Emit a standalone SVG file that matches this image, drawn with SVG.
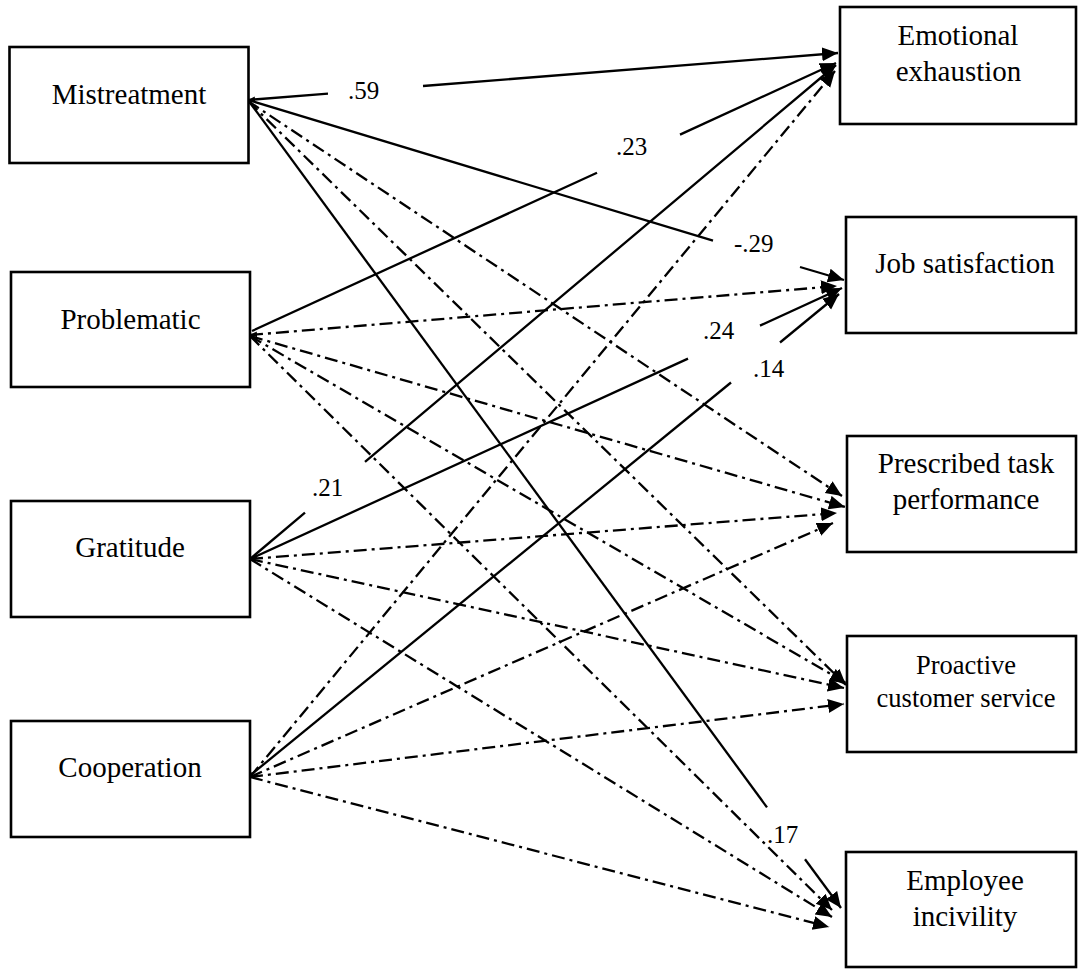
<svg xmlns="http://www.w3.org/2000/svg" width="1078" height="969" viewBox="0 0 1078 969">
<style>
.box{fill:#fff;stroke:#000;stroke-width:2.6}
.t{font-family:"Liberation Serif","Times New Roman",serif;font-size:29px;fill:#000;text-anchor:middle}
.ts{font-family:"Liberation Serif","Times New Roman",serif;font-size:26.5px;fill:#000;text-anchor:middle}
.lb{font-family:"Liberation Serif","Times New Roman",serif;font-size:25px;fill:#000}
.s{fill:none;stroke:#000;stroke-width:2.3;marker-end:url(#ah)}
.sn{fill:none;stroke:#000;stroke-width:2.3}
.d{fill:none;stroke:#000;stroke-width:2.3;stroke-dasharray:13 5 3 5;marker-end:url(#ah)}
.st{marker-start:url(#sh)}
</style>
<defs>
<marker id="ah" markerUnits="userSpaceOnUse" markerWidth="18" markerHeight="16" refX="16" refY="7" orient="auto" viewBox="0 0 18 16">
<path d="M0,0 L16,7 L0,14 z" fill="#000"/>
</marker>
<marker id="sh" markerUnits="userSpaceOnUse" markerWidth="8" markerHeight="7" refX="7" refY="3" orient="auto-start-reverse" viewBox="0 0 8 7">
<path d="M0,0 L7,3 L0,6 z" fill="#000"/>
</marker>
</defs>
<rect width="1078" height="969" fill="#fff"/>

<g id="connectors">
<!-- Mistreatment -->
<line class="sn st" x1="248" y1="100" x2="328" y2="93.6"/>
<line class="s" x1="423" y1="86" x2="838" y2="53"/>
<line class="sn" x1="248" y1="100" x2="713" y2="240.7"/>
<line class="s" x1="800" y1="267" x2="844" y2="280"/>
<line class="d" x1="248" y1="101" x2="842" y2="496"/>
<line class="d" x1="248" y1="101" x2="846" y2="685"/>
<line class="sn" x1="248" y1="100" x2="767" y2="807.4"/>
<line class="s" x1="805" y1="859.2" x2="841" y2="908"/>
<!-- Problematic -->
<line class="sn" x1="252" y1="331" x2="597" y2="172.7"/>
<line class="s" x1="680" y1="134.6" x2="836" y2="63"/>
<line class="d st" x1="250" y1="335" x2="837" y2="286"/>
<line class="d" x1="250" y1="336" x2="845" y2="507"/>
<line class="d" x1="250" y1="336" x2="846" y2="683"/>
<line class="d" x1="250" y1="336" x2="832" y2="910"/>
<!-- Gratitude -->
<line class="sn" x1="250" y1="559" x2="305" y2="512.6"/>
<line class="s" x1="365" y1="461.9" x2="836" y2="65"/>
<line class="sn st" x1="250" y1="559" x2="688" y2="358.6"/>
<line class="s" x1="760" y1="325.6" x2="842" y2="288"/>
<line class="d" x1="250" y1="559" x2="837" y2="513"/>
<line class="d" x1="250" y1="559" x2="844" y2="688"/>
<line class="d" x1="250" y1="559" x2="832" y2="917"/>
<!-- Cooperation -->
<line class="d" x1="250" y1="777" x2="835" y2="71"/>
<line class="sn st" x1="247" y1="778" x2="731" y2="382.5"/>
<line class="s" x1="780" y1="342.5" x2="839" y2="294"/>
<line class="d" x1="250" y1="777" x2="833" y2="523"/>
<line class="d" x1="250" y1="777" x2="844" y2="704"/>
<line class="d" x1="250" y1="777" x2="829" y2="927"/>
<!-- coefficient labels -->
<text class="lb" x="348" y="99">.59</text>
<text class="lb" x="616" y="155">.23</text>
<text class="lb" x="734" y="252">-.29</text>
<text class="lb" x="703" y="339">.24</text>
<text class="lb" x="753" y="377">.14</text>
<text class="lb" x="312" y="496">.21</text>
<text class="lb" x="767" y="843">.17</text>
</g>

<g id="mistreatment">
<rect class="box" x="9.5" y="47" width="239" height="116"/>
<text class="t" x="129" y="104">Mistreatment</text>
</g>
<g id="problematic">
<rect class="box" x="11" y="272" width="239" height="115"/>
<text class="t" x="130.5" y="329">Problematic</text>
</g>
<g id="gratitude">
<rect class="box" x="11" y="501" width="239" height="116"/>
<text class="t" x="130" y="557">Gratitude</text>
</g>
<g id="cooperation">
<rect class="box" x="11" y="721" width="239" height="116"/>
<text class="t" x="130" y="777">Cooperation</text>
</g>

<g id="emotional-exhaustion">
<rect class="box" x="840" y="7" width="236" height="117"/>
<text class="t" x="958" y="45">Emotional</text>
<text class="t" x="958.5" y="81">exhaustion</text>
</g>
<g id="job-satisfaction">
<rect class="box" x="846" y="217" width="230" height="116"/>
<text class="t" x="965" y="273">Job satisfaction</text>
</g>
<g id="prescribed-task-performance">
<rect class="box" x="847" y="436" width="229" height="116"/>
<text class="t" x="966" y="473">Prescribed task</text>
<text class="t" x="966" y="509">performance</text>
</g>
<g id="proactive-customer-service">
<rect class="box" x="847" y="636" width="229" height="116"/>
<text class="ts" x="966" y="674">Proactive</text>
<text class="ts" x="966" y="707">customer service</text>
</g>
<g id="employee-incivility">
<rect class="box" x="846" y="852" width="230" height="115"/>
<text class="t" x="965" y="926">incivility</text>
<text class="t" x="965" y="890">Employee</text>
</g>
</svg>
